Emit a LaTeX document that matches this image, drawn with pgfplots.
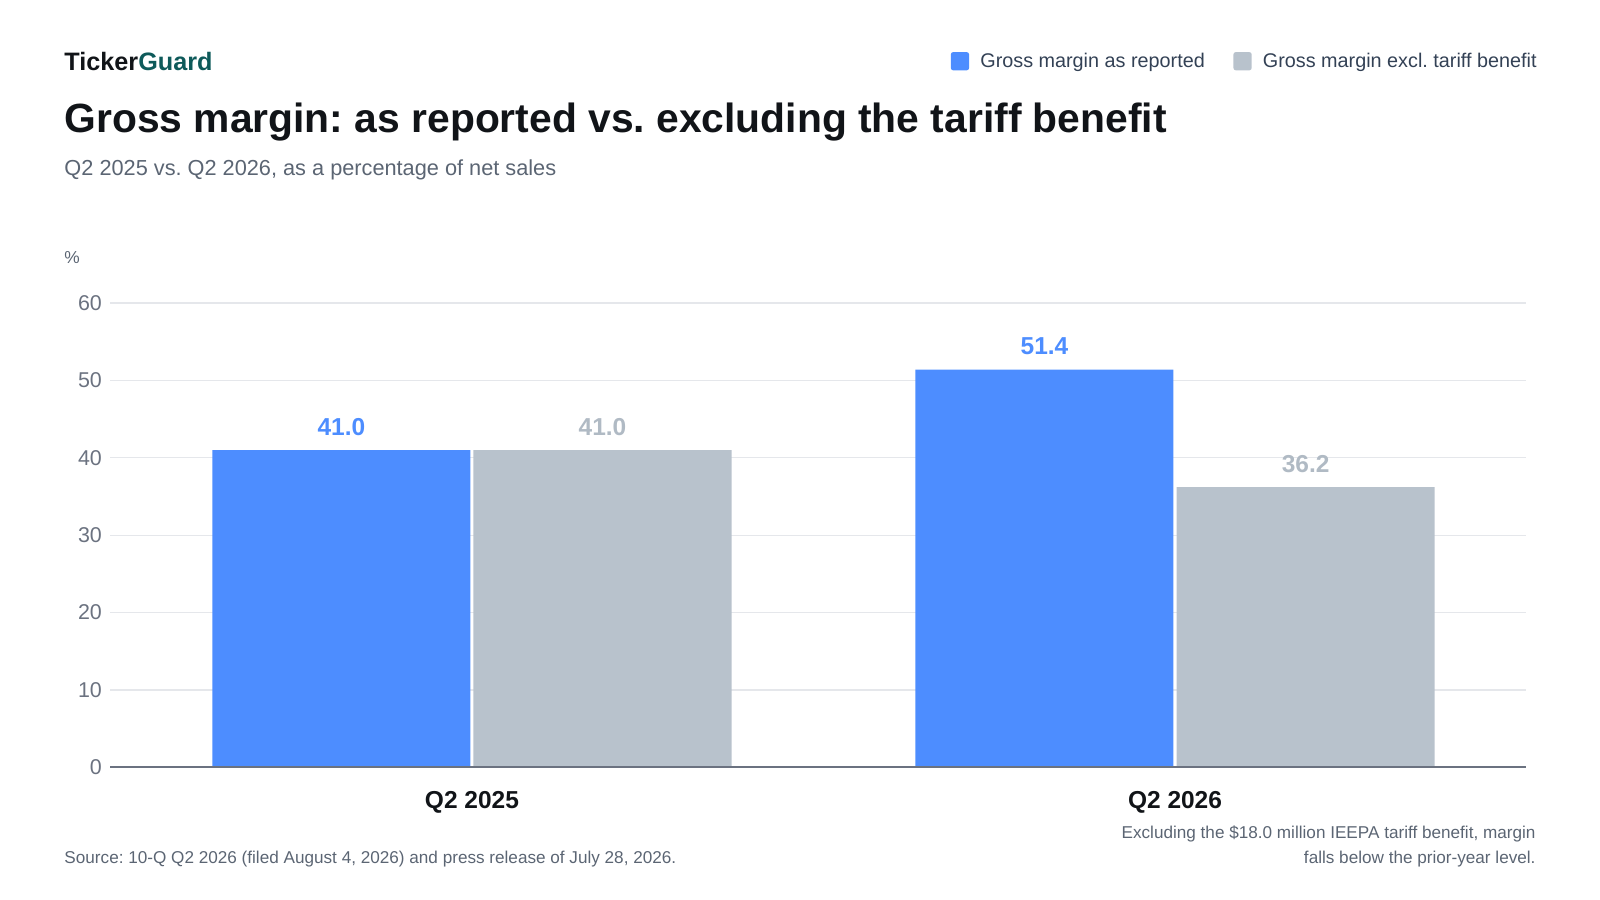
\documentclass[border=0pt]{standalone}
\usepackage{pgfplots}
\pgfplotsset{compat=1.18}
\usepackage{fontspec}
\setmainfont{Liberation Sans}
\frenchspacing
\definecolor{cblue}{HTML}{4D8DFF}
\definecolor{cgray}{HTML}{B8C2CC}
\definecolor{cgraylab}{HTML}{B0BAC4}
\definecolor{ctitle}{HTML}{111418}
\definecolor{cteal}{HTML}{0E5A5A}
\definecolor{csub}{HTML}{5B6573}
\definecolor{ctick}{HTML}{6B7280}
\definecolor{clegend}{HTML}{334155}
\definecolor{cgrid}{HTML}{E5E7EB}
\definecolor{cbase}{HTML}{6B7280}
\begin{document}
\begin{tikzpicture}
\useasboundingbox (0,0) rectangle (1568bp,882bp);
% header
\node[anchor=base west,inner sep=0] at (63bp,813bp) {\fontsize{24.7bp}{28bp}\selectfont\bfseries\color{ctitle}Ticker\color{cteal}Guard};
\node[anchor=base west,inner sep=0] at (63bp,752bp) {\fontsize{40bp}{46bp}\selectfont\bfseries\color{ctitle}Gross margin: as reported vs. excluding the tariff benefit};
\node[anchor=base west,inner sep=0] at (63bp,710bp) {\fontsize{21.3bp}{25bp}\selectfont\color{csub}Q2 2025 vs. Q2 2026, as a percentage of net sales};
\node[anchor=base west,inner sep=0] at (63bp,624bp) {\fontsize{17bp}{20bp}\selectfont\color{csub}\%};
% footer
\node[anchor=base west,inner sep=0] at (63bp,36bp) {\fontsize{16.8bp}{20bp}\selectfont\color{csub}Source: 10-Q Q2 2026 (filed August 4, 2026) and press release of July 28, 2026.};
\node[anchor=base east,inner sep=0] at (1505bp,60bp) {\fontsize{16.8bp}{20bp}\selectfont\color{csub}Excluding the \$18.0 million IEEPA tariff benefit, margin};
\node[anchor=base east,inner sep=0] at (1505bp,36bp) {\fontsize{16.8bp}{20bp}\selectfont\color{csub}falls below the prior-year level.};
\begin{axis}[
  at={(108bp,130bp)}, anchor=south west,
  width=1387bp, height=455bp, scale only axis,
  xmin=-0.5145, xmax=1.4985, ymin=0, ymax=60,
  axis line style={draw=none},
  ytick={0,10,...,60},
  major tick length=0,
  ymajorgrids, grid style={cgrid, line width=1.2bp},
  xtick={0,1}, xticklabels={Q2 2025, Q2 2026},
  xticklabel style={font=\fontsize{24bp}{28bp}\selectfont\bfseries, color=ctitle, anchor=base, inner sep=0, yshift=-40bp},
  yticklabel style={font=\fontsize{21bp}{24bp}\selectfont, color=ctick, anchor=east, inner sep=0, xshift=-8bp},
  /pgf/number format/assume math mode=true,
  nodes near coords,
  nodes near coords style={font=\fontsize{24bp}{28bp}\selectfont\bfseries, anchor=base, yshift=14.5bp, inner sep=0,
    /pgf/number format/fixed, /pgf/number format/fixed zerofill, /pgf/number format/precision=1},
  ybar, bar width=0.367,
  legend columns=2,
  legend style={at={(1.00937,1.5209)}, anchor=east, draw=none, fill=none, inner sep=0pt,
    font=\fontsize{19.4bp}{23bp}\selectfont\color{clegend},
    /tikz/every odd column/.append style={column sep=9bp},
    /tikz/every even column/.append style={column sep=26bp}},
  legend image code/.code={\fill[#1,draw=none,rounded corners=2.5bp] (0bp,-9bp) rectangle (18bp,9bp);},
  legend cell align=left,
  clip=false,
]
\addplot[fill=cblue, draw=none, bar shift=-0.1857, nodes near coords style={color=cblue}] coordinates {(0,41.0) (1,51.4)};
\addplot[fill=cgray, draw=none, bar shift=0.1857, nodes near coords style={color=cgraylab}] coordinates {(0,41.0) (1,36.2)};
\legend{Gross margin as reported, Gross margin excl. tariff benefit}
\draw[cbase, line width=2bp] (axis cs:-0.5145,0) -- (axis cs:1.4985,0);
\end{axis}
\end{tikzpicture}
\end{document}
